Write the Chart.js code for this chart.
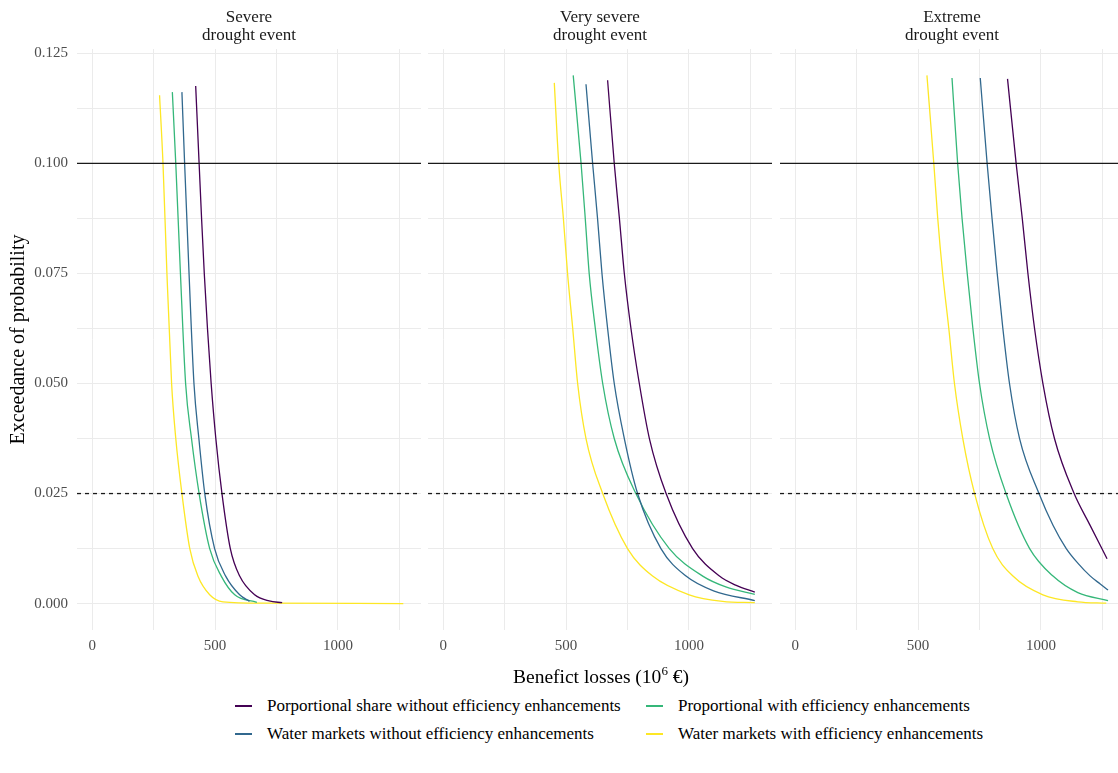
<!DOCTYPE html>
<html>
<head>
<meta charset="utf-8">
<script src="https://cdn.jsdelivr.net/npm/chart.js@4.4.1/dist/chart.umd.min.js"></script>
<style>
html, body { margin:0; padding:0; background:#fff; width:1118px; height:773px; overflow:hidden; position:relative;
  font-family:"Liberation Serif","DejaVu Serif",serif; }
canvas { position:absolute; top:0; }
#xtitle { position:absolute; top:660px; left:0; width:1202px; text-align:center; font-size:19.5px; line-height:22px; color:#000; }
#xtitle sup { font-size:13px; }
#legend { position:absolute; left:235px; top:696px; display:grid; grid-template-columns:411px auto; row-gap:8px; font-size:17px; color:#000; }
.item { display:flex; align-items:center; height:20px; white-space:nowrap; }
.sw { display:inline-block; width:17px; height:1.4px; margin-right:15px; }
</style>
</head>
<body>
<canvas id="c1" width="421" height="665" style="left:0px"></canvas>
<canvas id="c2" width="344" height="665" style="left:428px"></canvas>
<canvas id="c3" width="344" height="665" style="left:780px"></canvas>
<div id="xtitle">Benefict losses (10<sup>6</sup> €)</div>
<div id="legend"></div>
<script>
// ---- categories / labels ----
const panelTitles = [["Severe", "drought event"], ["Very severe", "drought event"], ["Extreme", "drought event"]];
const seriesNames = [
  "Porportional share without efficiency enhancements",
  "Water markets without efficiency enhancements",
  "Proportional with efficiency enhancements",
  "Water markets with efficiency enhancements"
];
const seriesColors = ["#440154", "#31688E", "#35B779", "#FDE725"];
const legendOrder = [0, 2, 1, 3];

// ---- axis ticks ----
const xMajorTicks = [0, 500, 1000];
const xMinorTicks = [250, 750, 1250];
const yMajorTicks = [0, 0.025, 0.05, 0.075, 0.1, 0.125];
const yMinorTicks = [0.0125, 0.0375, 0.0625, 0.0875, 0.1125];
const xLimits = [-62, 1338];
const yLimits = [-0.006, 0.126];

// ---- reference lines (probability levels) ----
const solidRefLine = 0.1;
const dashedRefLine = 0.025;

// ---- series: [benefit loss, exceedance probability] ----
// Severe drought event
const severePropShare = [[421,0.1176],[435,0.100],[445,0.0875],[456,0.075],[469,0.0625],[484,0.050],[503,0.0375],[528,0.025],[562,0.0125],[600,0.00625],[661,0.002],[720,0.0006],[773,0.0002]];
const severeMarkets   = [[365,0.1162],[376,0.100],[394,0.075],[414,0.050],[434,0.0375],[458,0.025],[498,0.0125],[543,0.00625],[600,0.002],[640,0.0005]];
const severePropEff   = [[326,0.1162],[340,0.100],[359,0.075],[380,0.050],[404,0.0375],[435,0.025],[478,0.0125],[525,0.00625],[580,0.002],[670,0.0003]];
const severeMarketsEff= [[274,0.1155],[288,0.100],[304,0.075],[323,0.050],[340,0.0375],[365,0.025],[397,0.0125],[430,0.00625],[478,0.002],[532,0.0004],[700,0.0001],[1266,0]];
// Very severe drought event
const vsevPropShare   = [[669,0.1189],[696,0.100],[717,0.0875],[737,0.075],[764,0.0625],[798,0.050],[839,0.0375],[907,0.025],[1015,0.0125],[1124,0.00625],[1190,0.0042],[1268,0.0026]];
const vsevMarkets     = [[581,0.1180],[608,0.100],[628,0.0875],[646,0.075],[669,0.0625],[696,0.050],[737,0.0375],[791,0.025],[886,0.0125],[988,0.00625],[1100,0.0029],[1268,0.0007]];
const vsevPropEff     = [[529,0.1200],[561,0.100],[578,0.0875],[594,0.075],[619,0.0625],[649,0.050],[696,0.0375],[784,0.025],[920,0.0125],[1056,0.00625],[1150,0.0038],[1268,0.0021]];
const vsevMarketsEff  = [[452,0.1183],[470,0.100],[489,0.0875],[506,0.075],[527,0.0625],[547,0.050],[581,0.0375],[649,0.025],[750,0.0125],[852,0.00625],[1001,0.002],[1137,0.0005],[1268,0.0002]];
// Extreme drought event
const extPropShare    = [[864,0.1192],[899,0.100],[924,0.0875],[947,0.075],[974,0.0625],[1008,0.050],[1055,0.0375],[1135,0.025],[1198,0.018],[1269,0.0102]];
const extMarkets      = [[753,0.1194],[781,0.100],[801,0.0875],[822,0.075],[845,0.0625],[872,0.050],[913,0.0375],[992,0.025],[1049,0.0178],[1103,0.0125],[1150,0.0092],[1200,0.0063],[1240,0.0045],[1273,0.0031]];
const extPropEff      = [[638,0.1194],[661,0.100],[679,0.0875],[700,0.075],[723,0.0625],[750,0.050],[791,0.0375],[858,0.025],[954,0.0125],[1049,0.00625],[1150,0.0025],[1273,0.0007]];
const extMarketsEff   = [[536,0.1200],[564,0.100],[580,0.0875],[600,0.075],[625,0.0625],[648,0.050],[682,0.0375],[730,0.025],[804,0.0125],[886,0.00625],[1008,0.002],[1150,0.0004],[1266,0.0001]];

const panelSeries = [
  [severePropShare, severeMarkets, severePropEff, severeMarketsEff],
  [vsevPropShare, vsevMarkets, vsevPropEff, vsevMarketsEff],
  [extPropShare, extMarkets, extPropEff, extMarketsEff]
];

const FONT = "'Liberation Serif', 'DejaVu Serif', serif";
const GRID = '#EBEBEB';

function toPts(arr) { return arr.map(p => ({x: p[0], y: p[1]})); }

function makePanel(id, pIdx, showY) {
  const datasets = [];
  datasets.push({
    label: 'p = ' + solidRefLine,
    data: [{x: xLimits[0], y: solidRefLine}, {x: xLimits[1], y: solidRefLine}],
    borderColor: '#1a1a1a', borderWidth: 1.3, pointRadius: 0, fill: false
  });
  datasets.push({
    label: 'p = ' + dashedRefLine,
    data: [{x: xLimits[0], y: dashedRefLine}, {x: xLimits[1], y: dashedRefLine}],
    borderColor: '#1a1a1a', borderWidth: 1.3, borderDash: [4, 4], pointRadius: 0, fill: false
  });
  panelSeries[pIdx].forEach((s, i) => {
    datasets.push({
      label: seriesNames[i],
      data: toPts(s),
      borderColor: seriesColors[i],
      borderWidth: 1.3,
      pointRadius: 0,
      fill: false,
      cubicInterpolationMode: 'monotone'
    });
  });
  return new Chart(document.getElementById(id), {
    type: 'line',
    data: { datasets },
    options: {
      responsive: false,
      animation: false,
      devicePixelRatio: 1,
      layout: { padding: 0 },
      plugins: {
        legend: { display: false },
        tooltip: { enabled: false },
        title: {
          display: true,
          fullSize: false,
          text: panelTitles[pIdx],
          color: '#1A1A1A',
          font: { family: FONT, size: 17, lineHeight: '18px', weight: 'normal' },
          padding: { top: 9, bottom: 4 }
        }
      },
      scales: {
        x: {
          type: 'linear',
          min: xLimits[0], max: xLimits[1],
          bounds: 'data',
          afterBuildTicks: s => { s.ticks = xMajorTicks.concat(xMinorTicks).sort((a, b) => a - b).map(v => ({value: v})); },
          afterFit: s => { s.height = 35; },
          grid: { color: GRID, lineWidth: 1, drawTicks: false },
          border: { display: false },
          ticks: {
            padding: 7, color: '#4D4D4D', autoSkip: false, maxRotation: 0,
            font: { family: FONT, size: 15 },
            callback: v => xMajorTicks.includes(v) ? String(v) : ''
          }
        },
        y: {
          type: 'linear',
          min: yLimits[0], max: yLimits[1],
          bounds: 'data',
          afterBuildTicks: s => { s.ticks = yMajorTicks.concat(yMinorTicks).sort((a, b) => a - b).map(v => ({value: v})); },
          afterFit: s => { s.width = showY ? 77 : 0; },
          grid: { color: GRID, lineWidth: 1, drawTicks: false },
          border: { display: false },
          ticks: {
            display: showY, padding: 9, color: '#4D4D4D', autoSkip: false,
            font: { family: FONT, size: 15 },
            callback: v => yMajorTicks.includes(v) ? v.toFixed(3) : ''
          },
          title: {
            display: showY, text: 'Exceedance of probability', color: '#000',
            font: { family: FONT, size: 20 }, padding: { top: 7, bottom: 0 }
          }
        }
      }
    }
  });
}

makePanel('c1', 0, true);
makePanel('c2', 1, false);
makePanel('c3', 2, false);

// HTML legend
const lg = document.getElementById('legend');
legendOrder.forEach(i => {
  const d = document.createElement('div');
  d.className = 'item';
  const sw = document.createElement('span');
  sw.className = 'sw';
  sw.style.background = seriesColors[i];
  const t = document.createElement('span');
  t.textContent = seriesNames[i];
  d.appendChild(sw); d.appendChild(t);
  lg.appendChild(d);
});
</script>
</body>
</html>
